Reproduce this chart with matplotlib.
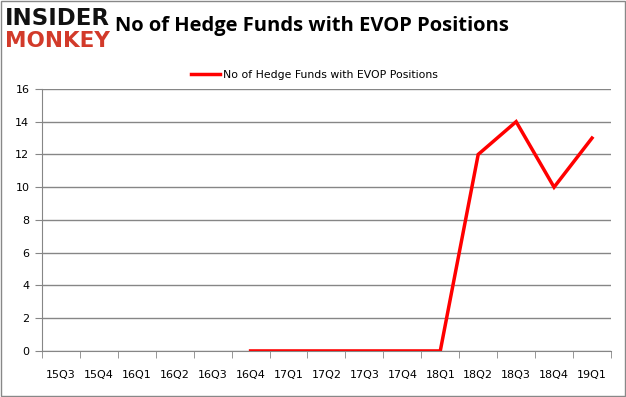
import matplotlib.pyplot as plt
from matplotlib.patches import Rectangle

quarters = ["15Q3", "15Q4", "16Q1", "16Q2", "16Q3", "16Q4", "17Q1", "17Q2",
            "17Q3", "17Q4", "18Q1", "18Q2", "18Q3", "18Q4", "19Q1"]
funds = [None, None, None, None, None, 0, 0, 0, 0, 0, 0, 12, 14, 10, 13]
yticks = [0, 2, 4, 6, 8, 10, 12, 14, 16]

grey = "#868686"

fig = plt.figure(figsize=(6.26, 3.97), dpi=100)
ax = fig.add_axes([0.067, 0.116, 0.909, 0.66])

xs = [i for i, v in enumerate(funds) if v is not None]
ys = [v for v in funds if v is not None]
ax.plot(xs, ys, color="#ff0000", lw=2.5, solid_joinstyle="miter",
        label="No of Hedge Funds with EVOP Positions")

ax.set_xlim(-0.5, len(quarters) - 0.5)
ax.set_ylim(0, 16)
ax.set_yticks(yticks)
ax.set_xticks(range(len(quarters)))
ax.set_xticklabels(quarters, fontsize=8)
ax.set_xticks([i - 0.5 for i in range(len(quarters) + 1)], minor=True)
ax.tick_params(axis="x", which="major", length=0, pad=14)
ax.tick_params(axis="x", which="minor", length=5, color=grey, direction="out")
ax.tick_params(axis="y", length=5, color=grey, labelsize=8, pad=4)
ax.grid(axis="y", color=grey, lw=1)
ax.set_axisbelow(True)
for s in ["top", "right"]:
    ax.spines[s].set_visible(False)
for s in ["left", "bottom"]:
    ax.spines[s].set_color(grey)

ax.legend(loc="center", bbox_to_anchor=(0.479, 1.053), frameon=False,
          fontsize=7.8, handlelength=2.6, handletextpad=0.3)

# logo and title
fig.text(0.008, 0.953, "INSIDER", fontsize=16.5, fontweight="heavy", color="#111111",
         va="center", family="DejaVu Sans")
fig.text(0.008, 0.896, "MONKEY", fontsize=15.5, fontweight="heavy", color="#d23a2a",
         va="center", family="DejaVu Sans")
fig.text(0.183, 0.935, "No of Hedge Funds with EVOP Positions", fontsize=14.5,
         fontweight="bold", va="center", family="Open Sans")

fig.patches.append(Rectangle((0.001, 0.002), 0.997, 0.995, transform=fig.transFigure,
                             fill=False, edgecolor="#888888", lw=1))

fig.savefig("out.png", dpi=100)
